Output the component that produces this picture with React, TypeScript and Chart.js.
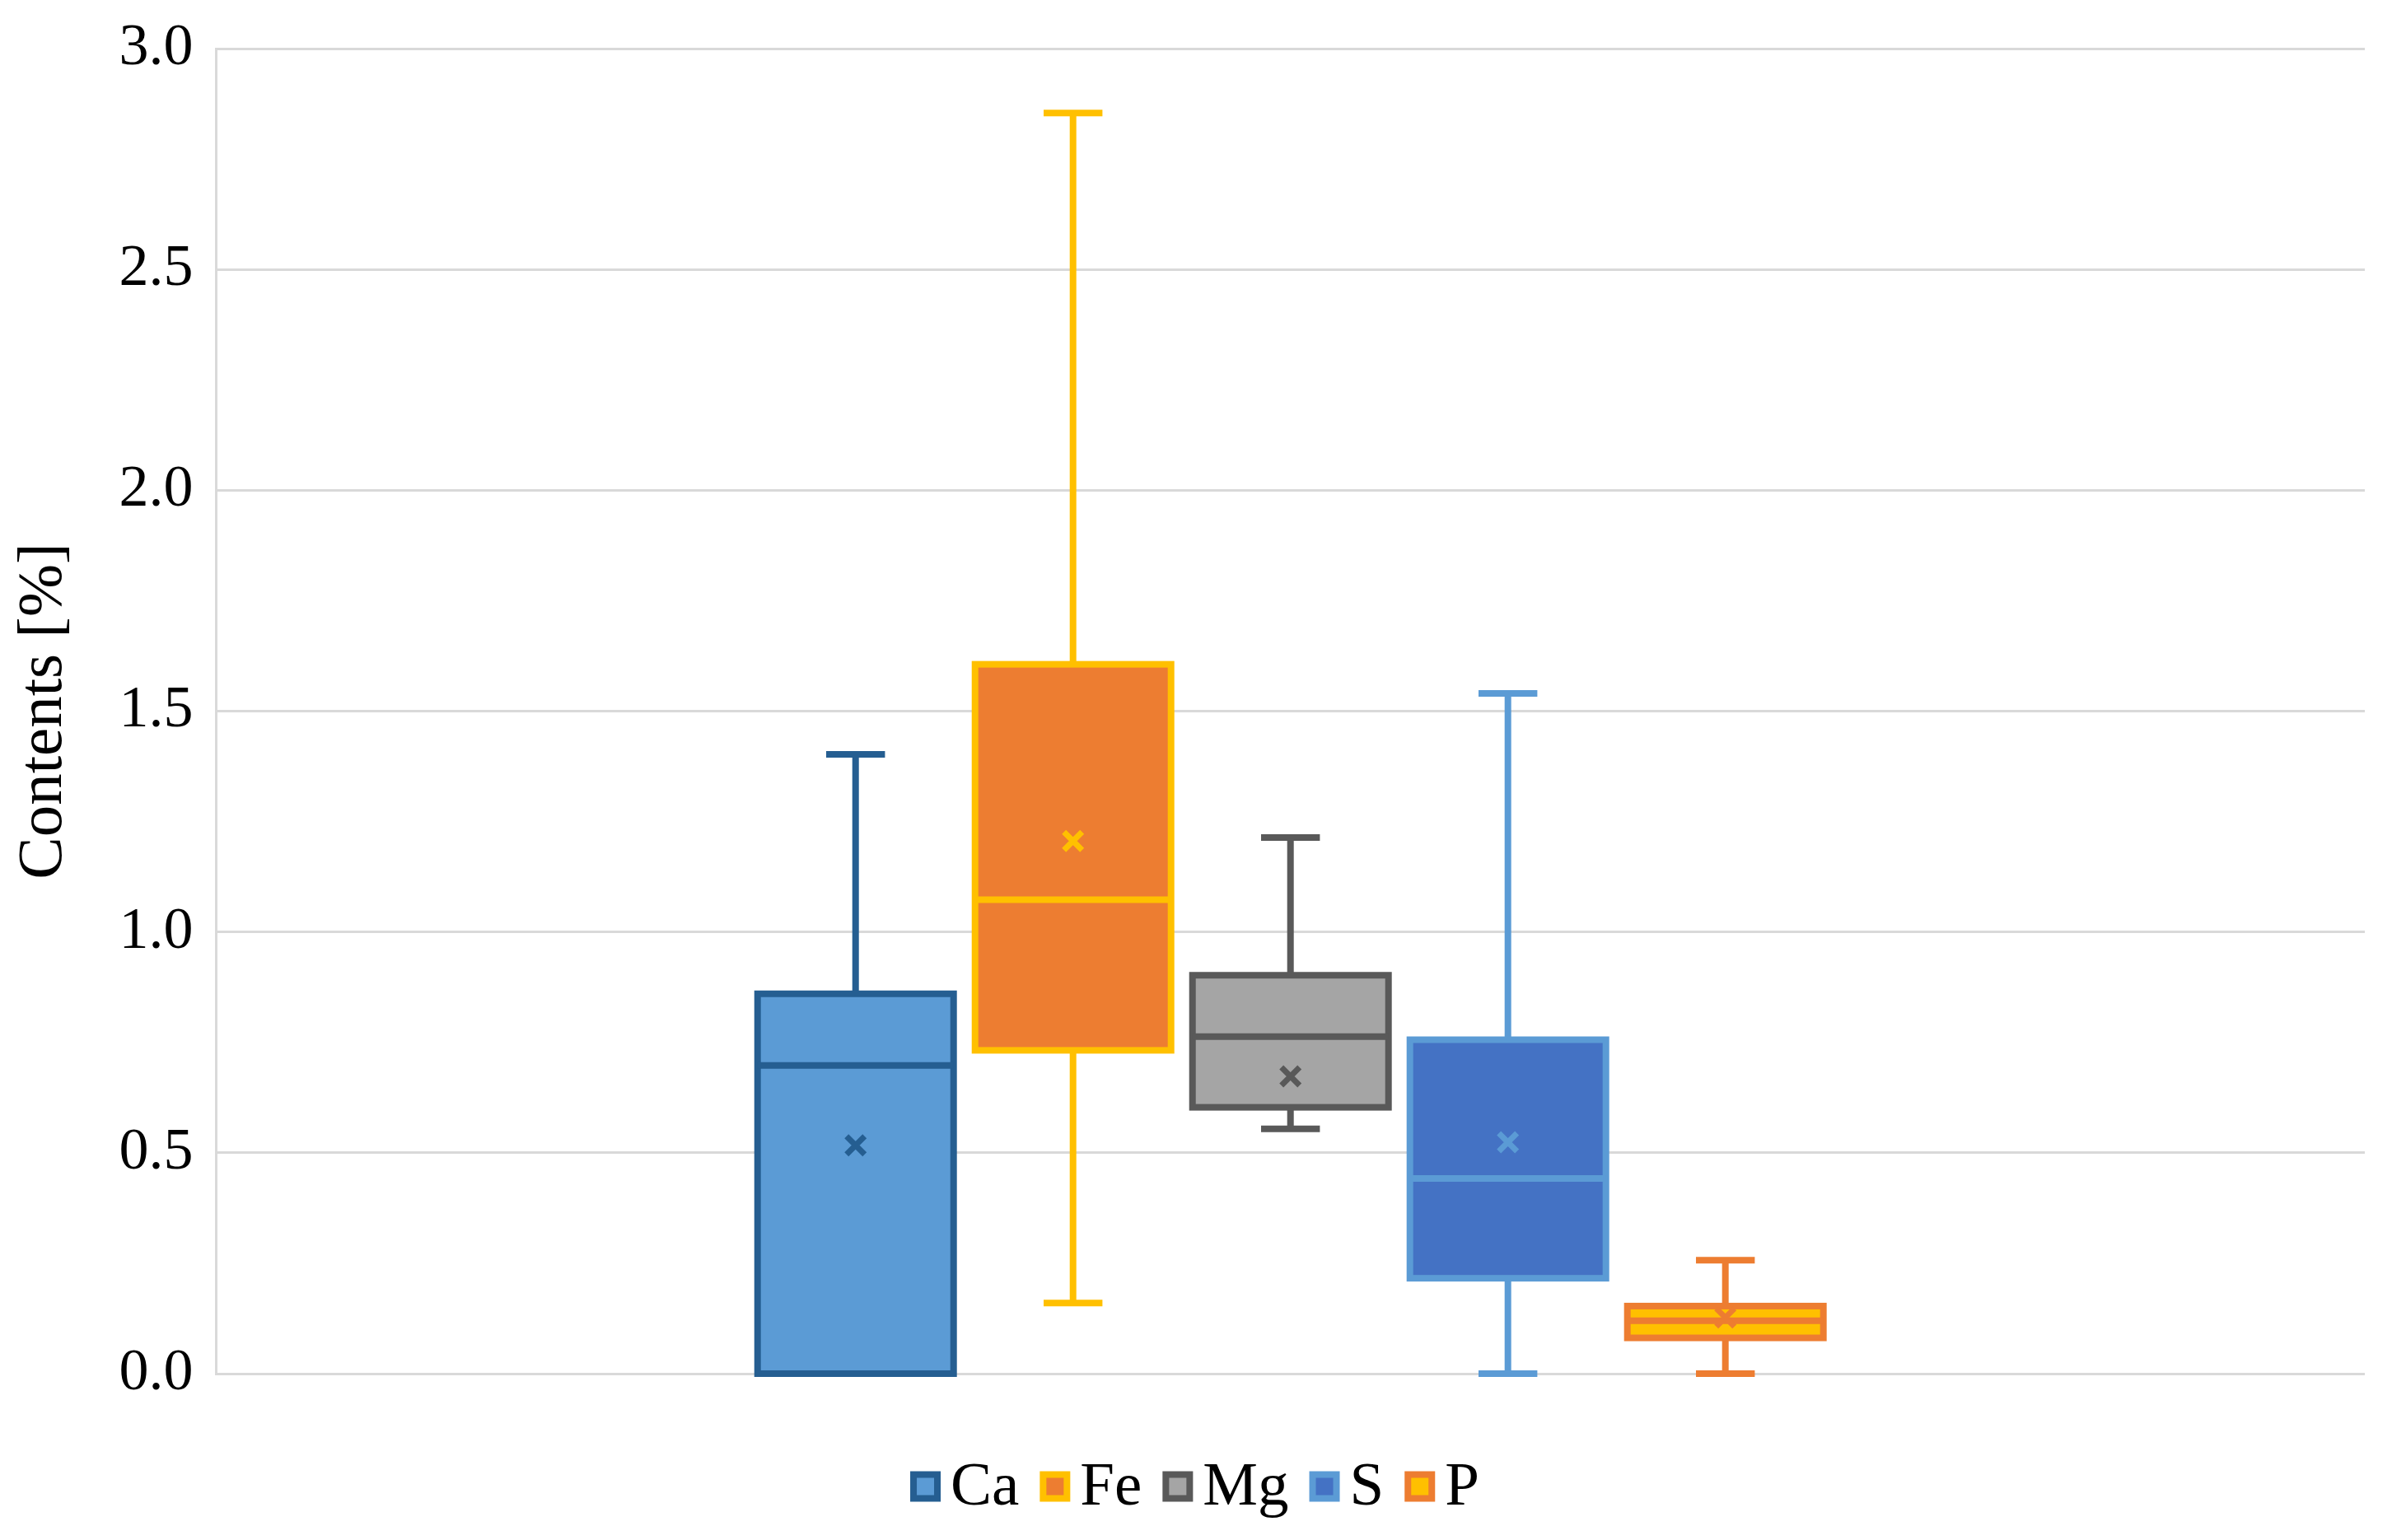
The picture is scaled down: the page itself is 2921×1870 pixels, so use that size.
import React, { useEffect, useRef } from 'react';
import { Chart, registerables } from 'chart.js';

Chart.register(...registerables);

// ---- data ----
const seriesNames = ['Ca', 'Fe', 'Mg', 'S', 'P'];
const minValues = [0.0, 0.16, 0.554, 0.0, 0.0];
const q1Values = [0.0, 0.732, 0.603, 0.216, 0.081];
const medianValues = [0.698, 1.073, 0.763, 0.442, 0.12];
const q3Values = [0.86, 1.606, 0.902, 0.756, 0.153];
const maxValues = [1.402, 2.854, 1.214, 1.54, 0.257];
const meanValues = [0.517, 1.206, 0.673, 0.524, 0.127];
const categoryLabels = [''];
const yAxisTitle = 'Contents [%]';

// ---- styles ----
const fillColors = ['#5B9BD5', '#ED7D31', '#A5A5A5', '#4472C4', '#FFC000'];
const lineColors = ['#255E91', '#FFC000', '#595959', '#5B9BD5', '#ED7D31'];
const FONT = "'Liberation Serif', 'Times New Roman', serif";
const LINE_W = 8;

const boxWhiskerPlugin = {
  id: 'boxWhisker',
  beforeDatasetsDraw(chart: any) {
    const yScale = chart.scales.y;
    const ctx = chart.ctx;
    ctx.save();
    chart.data.datasets.forEach((_ds: any, i: number) => {
      const bar = chart.getDatasetMeta(i).data[0];
      if (!bar) return;
      const { x, width } = bar.getProps(['x', 'width'], true);
      const capHalf = width * 0.15;
      const yMax = yScale.getPixelForValue(maxValues[i]);
      const yQ3 = yScale.getPixelForValue(q3Values[i]);
      const yQ1 = yScale.getPixelForValue(q1Values[i]);
      const yMin = yScale.getPixelForValue(minValues[i]);
      ctx.strokeStyle = lineColors[i];
      ctx.lineWidth = LINE_W;
      ctx.lineCap = 'butt';
      ctx.beginPath();
      if (maxValues[i] > q3Values[i]) {
        ctx.moveTo(x, yMax);
        ctx.lineTo(x, yQ3);
        ctx.moveTo(x - capHalf, yMax);
        ctx.lineTo(x + capHalf, yMax);
      }
      if (minValues[i] < q1Values[i]) {
        ctx.moveTo(x, yQ1);
        ctx.lineTo(x, yMin);
        ctx.moveTo(x - capHalf, yMin);
        ctx.lineTo(x + capHalf, yMin);
      }
      ctx.stroke();
    });
    ctx.restore();
  },
  afterDatasetsDraw(chart: any) {
    const yScale = chart.scales.y;
    const ctx = chart.ctx;
    ctx.save();
    chart.data.datasets.forEach((_ds: any, i: number) => {
      const bar = chart.getDatasetMeta(i).data[0];
      if (!bar) return;
      const { x, width } = bar.getProps(['x', 'width'], true);
      const yQ3 = yScale.getPixelForValue(q3Values[i]);
      const yQ1 = yScale.getPixelForValue(q1Values[i]);
      const yMed = yScale.getPixelForValue(medianValues[i]);
      const yMean = yScale.getPixelForValue(meanValues[i]);
      ctx.strokeStyle = lineColors[i];
      ctx.lineWidth = LINE_W;
      ctx.lineCap = 'butt';
      ctx.lineJoin = 'miter';
      // box outline, centred on the quartile edges
      ctx.strokeRect(x - width / 2, yQ3, width, yQ1 - yQ3);
      // median
      ctx.beginPath();
      ctx.moveTo(x - width / 2, yMed);
      ctx.lineTo(x + width / 2, yMed);
      ctx.stroke();
      // mean marker
      const r = 11;
      ctx.lineWidth = 7;
      ctx.beginPath();
      ctx.moveTo(x - r, yMean - r);
      ctx.lineTo(x + r, yMean + r);
      ctx.moveTo(x + r, yMean - r);
      ctx.lineTo(x - r, yMean + r);
      ctx.stroke();
    });
    ctx.restore();
  },
  afterDraw(chart: any) {
    // legend (Excel style: framed square, small gap, label)
    const ctx = chart.ctx;
    ctx.save();
    ctx.font = `75px ${FONT}`;
    ctx.textBaseline = 'middle';
    ctx.textAlign = 'left';
    const boxInner = 29;
    const boxLW = 8;
    const boxOuter = boxInner + boxLW;
    const textGap = 12;
    const itemGap = 25;
    const widths = chart.data.datasets.map((ds: any) => boxOuter + textGap + ctx.measureText(ds.label).width);
    const total = widths.reduce((a: number, b: number) => a + b, 0) + itemGap * (widths.length - 1);
    const cy = chart.height - 65;
    let x = chart.width / 2 - 10 - total / 2;
    chart.data.datasets.forEach((ds: any, i: number) => {
      ctx.fillStyle = fillColors[i];
      ctx.strokeStyle = lineColors[i];
      ctx.lineWidth = boxLW;
      const bx = x + boxLW / 2;
      const by = cy - boxInner / 2;
      ctx.fillRect(bx, by, boxInner, boxInner);
      ctx.strokeRect(bx, by, boxInner, boxInner);
      ctx.fillStyle = '#000000';
      ctx.fillText(ds.label, x + boxOuter + textGap, cy + 2);
      x += widths[i] + itemGap;
    });
    ctx.restore();
  },
};

export default function App() {
  const canvasRef = useRef<HTMLCanvasElement | null>(null);

  useEffect(() => {
    document.body.style.margin = '0';
    const canvas = canvasRef.current;
    if (!canvas) return;
    const chart = new Chart(canvas, {
      type: 'bar',
      data: {
        labels: categoryLabels,
        datasets: seriesNames.map((name, i) => ({
          label: name,
          data: [[q1Values[i], q3Values[i]]] as any,
          backgroundColor: fillColors[i],
          borderColor: lineColors[i],
          borderWidth: 0,
          inflateAmount: 0,
          borderSkipped: false,
          barPercentage: 0.9015,
          categoryPercentage: 0.506,
        })),
      },
      options: {
        responsive: false,
        devicePixelRatio: 1,
        animation: false,
        layout: { padding: { left: 0, right: 50, top: 59, bottom: 202 } },
        plugins: {
          tooltip: { enabled: false },
          legend: { display: false },
        },
        scales: {
          x: {
            display: false,
          },
          y: {
            min: 0,
            max: 3,
            grid: { color: '#D9D9D9', lineWidth: 3, drawTicks: false },
            border: { display: true, color: '#D9D9D9', width: 3 },
            ticks: {
              stepSize: 0.5,
              padding: 28,
              color: '#000000',
              font: { family: FONT, size: 72, lineHeight: 0.85 },
              callback: (v: any) => Number(v).toFixed(1),
            },
            title: {
              display: true,
              text: yAxisTitle,
              color: '#000000',
              font: { family: FONT, size: 77, lineHeight: 1.2 },
              padding: { top: 8, bottom: 16 },
            },
          },
        },
      } as any,
      plugins: [boxWhiskerPlugin],
    });
    return () => chart.destroy();
  }, []);

  return (
    <div style={{ position: 'absolute', left: 0, top: 0, width: 2921, height: 1870, background: '#ffffff' }}>
      <canvas ref={canvasRef} width={2921} height={1870} style={{ display: 'block', width: 2921, height: 1870 }} />
    </div>
  );
}
